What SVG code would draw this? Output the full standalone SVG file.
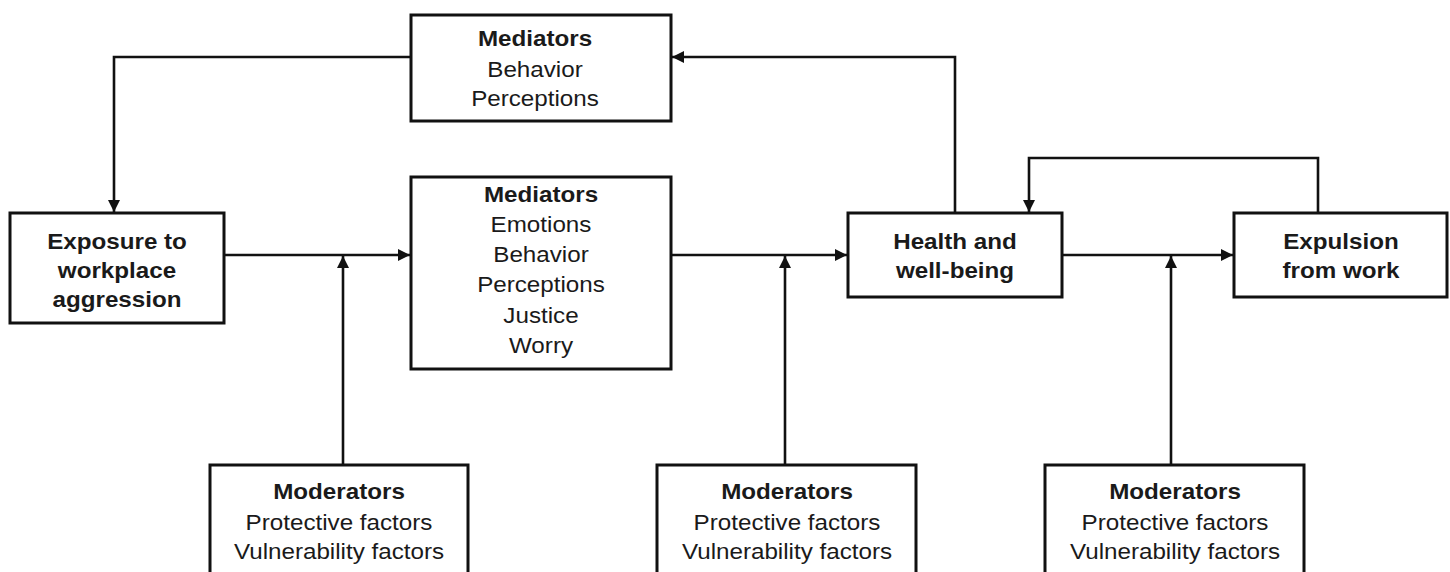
<svg xmlns="http://www.w3.org/2000/svg" width="1450" height="572" viewBox="0 0 1450 572">
<style>
.box{fill:#fff;stroke:#111;stroke-width:3}
.t{font-family:"Liberation Sans",Arial,Helvetica,sans-serif;font-size:22px;fill:#1a1a1a;text-anchor:middle}
.b{font-weight:bold}
.c{fill:none;stroke:#111;stroke-width:2.6}
</style>
<defs>
<marker id="ah" markerUnits="userSpaceOnUse" markerWidth="13" markerHeight="12" refX="12" refY="6" orient="auto">
<path d="M0,0 L12,6 L0,12 z" fill="#111"/>
</marker>
</defs>
<rect width="1450" height="572" fill="#fff"/>
<g id="connectors">
<path class="c" d="M224,255 H410" marker-end="url(#ah)"/>
<path class="c" d="M343,465 V256" marker-end="url(#ah)"/>
<path class="c" d="M671,255 H847" marker-end="url(#ah)"/>
<path class="c" d="M785,465 V256" marker-end="url(#ah)"/>
<path class="c" d="M1062,255 H1233" marker-end="url(#ah)"/>
<path class="c" d="M1171,465 V256" marker-end="url(#ah)"/>
<path class="c" d="M955,213 V57 H672" marker-end="url(#ah)"/>
<path class="c" d="M411,57 H114 V212" marker-end="url(#ah)"/>
<path class="c" d="M1318,213 V158 H1029 V212" marker-end="url(#ah)"/>
</g>
<g id="mediators-top">
<rect class="box" x="411" y="15" width="260" height="106"/>
<g transform="translate(535 0) scale(1.1 1)">
<text class="t b" x="0" y="46.5">Mediators</text>
<text class="t" x="0" y="77">Behavior</text>
<text class="t" x="0" y="106.5">Perceptions</text>
</g>
</g>
<g id="mediators-mid">
<rect class="box" x="411" y="177" width="260" height="192"/>
<g transform="translate(541 0) scale(1.1 1)">
<text class="t b" x="0" y="202">Mediators</text>
<text class="t" x="0" y="232">Emotions</text>
<text class="t" x="0" y="262.5">Behavior</text>
<text class="t" x="0" y="292.5">Perceptions</text>
<text class="t" x="0" y="323">Justice</text>
<text class="t" x="0" y="353">Worry</text>
</g>
</g>
<g id="exposure">
<rect class="box" x="10" y="213" width="214" height="110"/>
<g transform="translate(117 0) scale(1.1 1)">
<text class="t b" x="0" y="249">Exposure to</text>
<text class="t b" x="0" y="278">workplace</text>
<text class="t b" x="0" y="307">aggression</text>
</g>
</g>
<g id="health">
<rect class="box" x="848" y="213" width="214" height="84"/>
<g transform="translate(955 0) scale(1.1 1)">
<text class="t b" x="0" y="249">Health and</text>
<text class="t b" x="0" y="278">well-being</text>
</g>
</g>
<g id="expulsion">
<rect class="box" x="1234" y="213" width="213" height="84"/>
<g transform="translate(1341 0) scale(1.1 1)">
<text class="t b" x="0" y="249">Expulsion</text>
<text class="t b" x="0" y="278">from work</text>
</g>
</g>
<g id="moderators-1">
<rect class="box" x="210" y="465" width="258" height="120"/>
<g transform="translate(339 0) scale(1.1 1)">
<text class="t b" x="0" y="499">Moderators</text>
<text class="t" x="0" y="530">Protective factors</text>
<text class="t" x="0" y="559">Vulnerability factors</text>
</g>
</g>
<g id="moderators-2">
<rect class="box" x="657" y="465" width="259" height="120"/>
<g transform="translate(787 0) scale(1.1 1)">
<text class="t b" x="0" y="499">Moderators</text>
<text class="t" x="0" y="530">Protective factors</text>
<text class="t" x="0" y="559">Vulnerability factors</text>
</g>
</g>
<g id="moderators-3">
<rect class="box" x="1045" y="465" width="259" height="120"/>
<g transform="translate(1175 0) scale(1.1 1)">
<text class="t b" x="0" y="499">Moderators</text>
<text class="t" x="0" y="530">Protective factors</text>
<text class="t" x="0" y="559">Vulnerability factors</text>
</g>
</g>
</svg>
